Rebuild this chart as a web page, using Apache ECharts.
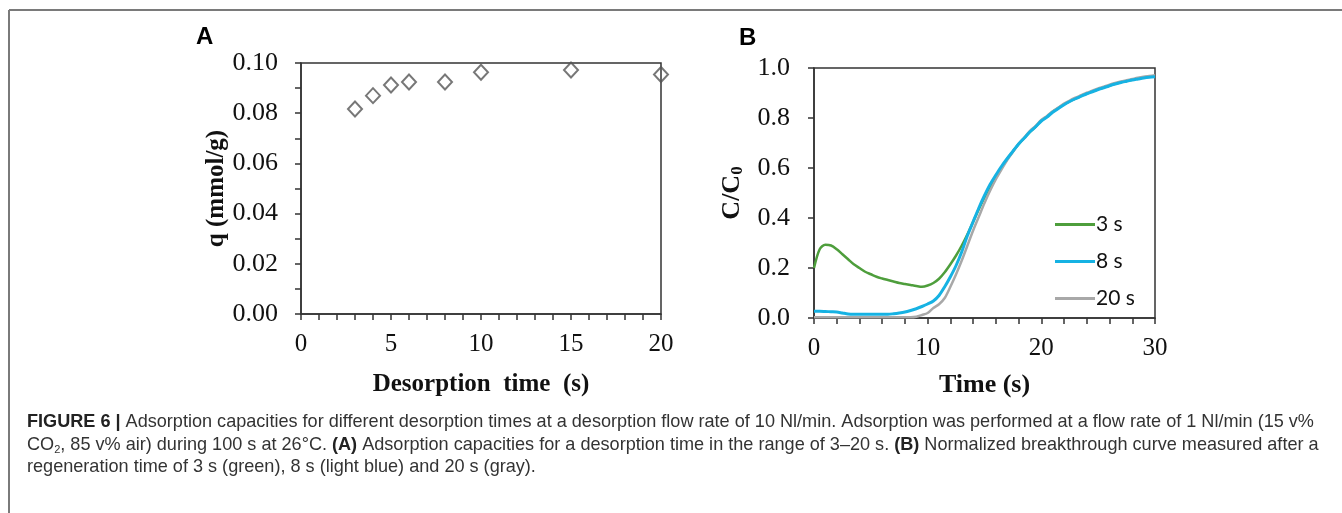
<!DOCTYPE html>
<html>
<head>
<meta charset="utf-8">
<script src="https://cdn.jsdelivr.net/npm/echarts@6/dist/echarts.min.js"></script>
<style>
html,body{margin:0;padding:0;background:#fff;}
#c{width:1342px;height:513px;}
</style>
</head>
<body>
<div id="c"></div>
<script>
// Panel A: adsorption capacity vs desorption time
const desorptionTimes = [3, 4, 5, 6, 8, 10, 15, 20];
const capacityQ = [0.0817, 0.0870, 0.0912, 0.0924, 0.0924, 0.0963, 0.0972, 0.0954];

// Panel B: breakthrough curves
const timeB = [0,0.5,1,1.5,2,2.5,3,3.5,4,4.5,5,5.5,6,6.5,7,7.5,8,8.5,9,9.5,10,10.5,11,11.5,12,12.5,13,13.5,14,14.5,15,15.5,16,16.5,17,17.5,18,18.5,19,19.5,20,20.5,21,21.5,22,22.5,23,23.5,24,24.5,25,25.5,26,26.5,27,27.5,28,28.5,29,29.5,30];
const curve3s = [0.20,0.275,0.293,0.29,0.275,0.255,0.235,0.215,0.20,0.185,0.175,0.165,0.158,0.152,0.146,0.14,0.136,0.132,0.128,0.125,0.13,0.14,0.157,0.183,0.215,0.25,0.29,0.335,0.385,0.435,0.483,0.527,0.567,0.602,0.636,0.666,0.695,0.72,0.745,0.765,0.79,0.805,0.825,0.84,0.855,0.867,0.878,0.888,0.898,0.906,0.915,0.922,0.93,0.937,0.943,0.948,0.953,0.958,0.962,0.965,0.967];
const curve8s = [0.027,0.027,0.026,0.025,0.024,0.02,0.016,0.015,0.015,0.015,0.015,0.015,0.015,0.015,0.017,0.02,0.024,0.03,0.037,0.046,0.056,0.068,0.09,0.125,0.165,0.21,0.265,0.33,0.385,0.44,0.49,0.535,0.572,0.607,0.638,0.667,0.696,0.72,0.745,0.765,0.788,0.804,0.823,0.838,0.853,0.866,0.877,0.887,0.897,0.905,0.914,0.921,0.929,0.936,0.942,0.947,0.952,0.956,0.96,0.963,0.965];
const curve20s = [0.003,0.003,0.003,0.003,0.003,0.003,0.003,0.003,0.003,0.003,0.003,0.003,0.003,0.003,0.003,0.003,0.003,0.003,0.005,0.012,0.02,0.04,0.055,0.08,0.125,0.175,0.23,0.29,0.35,0.405,0.46,0.51,0.555,0.595,0.632,0.665,0.697,0.722,0.748,0.768,0.792,0.808,0.827,0.842,0.858,0.87,0.881,0.891,0.901,0.909,0.918,0.925,0.933,0.94,0.946,0.951,0.956,0.961,0.965,0.968,0.971];

const seriesNames = ['3 s', '8 s', '20 s'];
const seriesColors = ['#4e9e3c', '#16b2e3', '#a8a8a8'];

const serif = 'Liberation Serif';
const pair = (xs, ys) => xs.map((x, i) => [x, ys[i]]);

const tickStyle = {color: '#333', width: 1.5};
const axisCommon = {
  axisLine: {show: true, lineStyle: {color: '#333', width: 1.5}},
  axisTick: {show: true, inside: false, length: 6, lineStyle: tickStyle},
  splitLine: {show: false},
  nameTextStyle: {color: '#111', fontFamily: serif, fontSize: 25, fontWeight: 'bold'}
};
const xLabel = {color: '#111', fontFamily: serif, fontSize: 25, margin: 18};
const yLabel = {color: '#111', fontFamily: serif, fontSize: 26, margin: 23};

const chart = echarts.init(document.getElementById('c'), null, {renderer: 'canvas'});
chart.setOption({
  animation: false,
  backgroundColor: '#fff',
  grid: [
    {left: 301, top: 63, width: 360, height: 251, show: true, borderColor: '#333', borderWidth: 1.5, backgroundColor: 'transparent'},
    {left: 814, top: 68, width: 341, height: 250, show: true, borderColor: '#333', borderWidth: 1.5, backgroundColor: 'transparent'}
  ],
  xAxis: [
    Object.assign({}, axisCommon, {
      gridIndex: 0, type: 'value', min: 0, max: 20, interval: 5,
      minorTick: {show: true, splitNumber: 5, length: 6, lineStyle: tickStyle},
      axisLabel: xLabel,
      name: 'Desorption  time  (s)', nameLocation: 'middle', nameGap: 58
    }),
    Object.assign({}, axisCommon, {
      gridIndex: 1, type: 'value', min: 0, max: 30, interval: 10,
      minorTick: {show: true, splitNumber: 5, length: 6, lineStyle: tickStyle},
      axisLabel: xLabel,
      name: 'Time (s)', nameLocation: 'middle', nameGap: 54,
      nameTextStyle: {color: '#111', fontFamily: serif, fontSize: 26, fontWeight: 'bold'}
    })
  ],
  yAxis: [
    Object.assign({}, axisCommon, {
      gridIndex: 0, type: 'value', min: 0, max: 0.1, interval: 0.02,
      minorTick: {show: true, splitNumber: 2, length: 6, lineStyle: tickStyle},
      axisLabel: Object.assign({}, yLabel, {formatter: v => v.toFixed(2)}),
      name: 'q (mmol/g)', nameLocation: 'middle', nameGap: 71
    }),
    Object.assign({}, axisCommon, {
      gridIndex: 1, type: 'value', min: 0, max: 1, interval: 0.2,
      axisLabel: Object.assign({}, yLabel, {margin: 24, formatter: v => v.toFixed(1)}),
      name: '{a|C/C}{s|0}', nameLocation: 'middle', nameGap: 68,
      nameTextStyle: {color: '#111', fontFamily: serif, fontSize: 26, fontWeight: 'bold',
        rich: {a: {fontFamily: serif, fontSize: 26, fontWeight: 'bold', color: '#111'},
               s: {fontFamily: serif, fontSize: 17, fontWeight: 'bold', color: '#111', verticalAlign: 'bottom', padding: [10, 0, 0, 0]}}}
    })
  ],
  legend: {
    orient: 'vertical', left: 1050, top: 209, icon: 'rect', itemWidth: 40, itemHeight: 3, itemGap: 16,
    data: seriesNames,
    textStyle: {fontFamily: 'Lato', fontSize: 21, color: '#111', padding: [0, 0, 0, -4]}
  },
  series: [
    {type: 'scatter', xAxisIndex: 0, yAxisIndex: 0, data: pair(desorptionTimes, capacityQ),
     symbol: 'diamond', symbolSize: [14, 15],
     itemStyle: {color: 'transparent', borderColor: '#555', borderWidth: 2}},
    {type: 'line', name: seriesNames[0], xAxisIndex: 1, yAxisIndex: 1, data: pair(timeB, curve3s),
     symbol: 'none', smooth: 0.3, lineStyle: {color: seriesColors[0], width: 2.5}, itemStyle: {color: seriesColors[0]}, z: 3},
    {type: 'line', name: seriesNames[2], xAxisIndex: 1, yAxisIndex: 1, data: pair(timeB, curve20s),
     symbol: 'none', smooth: 0.3, lineStyle: {color: seriesColors[2], width: 2.5}, itemStyle: {color: seriesColors[2]}, z: 3},
    {type: 'line', name: seriesNames[1], xAxisIndex: 1, yAxisIndex: 1, data: pair(timeB, curve8s),
     symbol: 'none', smooth: 0.3, lineStyle: {color: seriesColors[1], width: 3}, itemStyle: {color: seriesColors[1]}, z: 3}
  ],
  graphic: [
    {type: 'line', shape: {x1: 9, y1: 10, x2: 1342, y2: 10}, style: {stroke: '#7a7a7a', lineWidth: 2}},
    {type: 'line', shape: {x1: 9, y1: 10, x2: 9, y2: 513}, style: {stroke: '#7a7a7a', lineWidth: 2}},
    {type: 'text', left: 196, top: 25, style: {text: 'A', font: 'bold 24px "Liberation Sans"', fill: '#000'}},
    {type: 'text', left: 739, top: 26, style: {text: 'B', font: 'bold 24px "Liberation Sans"', fill: '#000'}},
    {type: 'text', left: 27, top: 413, style: {
      text: '{b|FIGURE 6 |}{t| Adsorption capacities for different desorption times at a desorption flow rate of 10 Nl/min. Adsorption was performed at a flow rate of 1 Nl/min (15 v%}\n' +
            '{t|CO}{sub|2}{t|, 85 v% air) during 100 s at 26°C. }{b|(A)}{t| Adsorption capacities for a desorption time in the range of 3–20 s. }{b|(B)}{t| Normalized breakthrough curve measured after a}\n' +
            '{t|regeneration time of 3 s (green), 8 s (light blue) and 20 s (gray).}',
      fill: '#222',
      rich: {
        b: {font: 'bold 18.1px "Liberation Sans"', fill: '#222', lineHeight: 22.5},
        t: {font: '18.1px "Liberation Sans"', fill: '#333', lineHeight: 22.5},
        sub: {font: '11px "Liberation Sans"', fill: '#333', lineHeight: 22.5, verticalAlign: 'bottom', padding: [7, 0, 0, 0]}
      }
    }}
  ]
});
</script>
</body>
</html>
